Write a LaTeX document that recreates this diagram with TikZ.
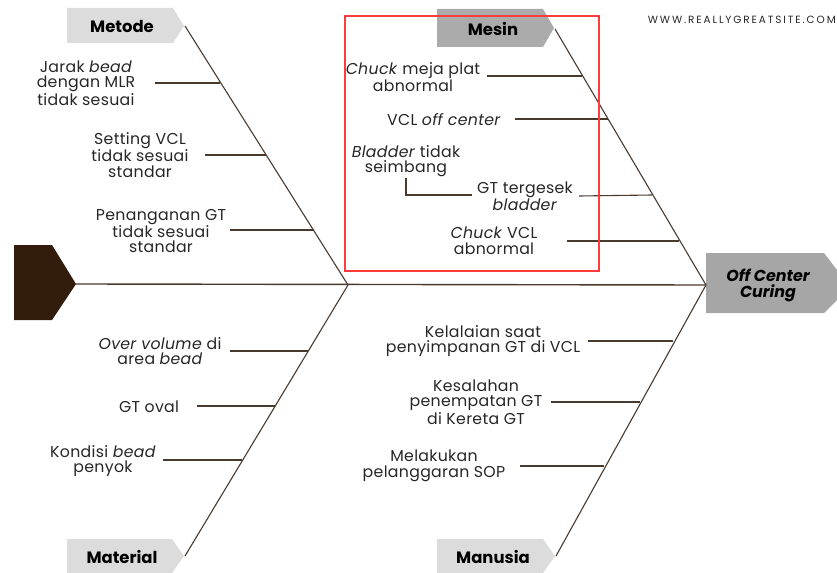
\documentclass[tikz,border=0pt]{standalone}
\usepackage{fontspec}
\setmainfont{Poppins}
\begin{document}
\begin{tikzpicture}[x=1bp,y=-1bp,
  bone/.style={draw=boneclr,line width=1.1bp},
  lbl/.style={align=center,font=\fontsize{15.8}{15.6}\selectfont\addfontfeatures{LetterSpace=2},text=txtclr,inner sep=0pt},
  tagtxt/.style={font=\fontsize{16.5}{17}\selectfont\bfseries,text=black,inner sep=0pt},
]
\definecolor{boneclr}{HTML}{4A3A2E}
\definecolor{txtclr}{HTML}{262626}
\definecolor{taglight}{HTML}{DCDCDC}
\definecolor{tagmid}{HTML}{ABABAB}
\definecolor{tagdark}{HTML}{A6A6A6}
\definecolor{headclr}{HTML}{331C0C}
\definecolor{frameclr}{HTML}{FF3B3B}
\useasboundingbox (0,0) rectangle (837,573);

% tail (dark pentagon)
\fill[headclr] (14,245) -- (52,245) -- (76,284) -- (52,320) -- (14,320) -- cycle;
\coordinate (tail) at (76,284);

% category tags
\fill[taglight] (67,8) -- (173,8) -- (184,26) -- (173,43) -- (67,43) -- cycle;
\node[tagtxt] (metode) at (122,26) {Metode};
\coordinate (metodetip) at (185,26);

\fill[tagmid] (437,9) -- (543,9) -- (554,28) -- (543,47) -- (437,47) -- cycle;
\node[tagtxt] (mesin) at (493,29) {Mesin};
\coordinate (mesintip) at (555,29);

\fill[taglight] (67,539) -- (172,539) -- (184,556) -- (172,573) -- (67,573) -- cycle;
\node[tagtxt] (material) at (122,557) {Material};
\coordinate (materialtip) at (185,556);

\fill[taglight] (437,539) -- (543,539) -- (555,556) -- (543,573) -- (437,573) -- cycle;
\node[tagtxt] (manusia) at (493,557) {Manusia};
\coordinate (manusiatip) at (556,556);

% effect head
\fill[tagdark] (706,253) -- (824,253) -- (837,270) -- (837,300) -- (824,313) -- (706,313) -- cycle;
\node[tagtxt,align=center,font=\fontsize{16}{16}\selectfont\bfseries\itshape] (effect) at (768,285) {Off Center\\Curing};
\coordinate (head) at (706,285);

% junction of the left bones
\coordinate (jleft) at (348,285);

% spine and main bones
\draw[bone,line width=1.4bp] (tail) -- (head);
\draw[bone] (metodetip) -- (jleft);
\draw[bone] (materialtip) -- (jleft);
\draw[bone] (mesintip) -- (head);
\draw[bone] (manusiatip) -- (head);

% --- Metode causes
\node[lbl] (m1) at (86,83) {Jarak \textit{bead}\\dengan MLR\\tidak sesuai};
\coordinate (m1a) at (155,83); \coordinate (m1b) at (220,83);
\draw[bone] (m1a) -- (m1b);
\node[lbl] (m2) at (140,155) {Setting VCL\\tidak sesuai\\standar};
\coordinate (m2a) at (205,155); \coordinate (m2b) at (266,155);
\draw[bone] (m2a) -- (m2b);
\node[lbl] (m3) at (161,231) {Penanganan GT\\tidak sesuai\\standar};
\coordinate (m3a) at (230,230); \coordinate (m3b) at (314,230);
\draw[bone] (m3a) -- (m3b);

% --- Mesin causes
\node[lbl] (s1) at (413,77) {\textit{Chuck} meja plat\\abnormal};
\coordinate (s1a) at (487,76); \coordinate (s1b) at (582,76);
\draw[bone] (s1a) -- (s1b);
\node[lbl] (s2) at (444,120) {VCL \textit{off center}};
\coordinate (s2a) at (515,119); \coordinate (s2b) at (608,119);
\draw[bone] (s2a) -- (s2b);
\node[lbl] (s3) at (406,161) {\textit{Bladder} tidak\\seimbang};
\node[lbl] (s4) at (525,196) {GT tergesek\\\textit{bladder}};
\coordinate (s3a) at (406,178); \coordinate (s3b) at (472,195);
\draw[bone] (s3a) |- (s3b);
\coordinate (s4a) at (579,196); \coordinate (s4b) at (652,195);
\draw[bone] (s4a) -- (s4b);
\node[lbl] (s5) at (494,241) {\textit{Chuck} VCL\\abnormal};
\coordinate (s5a) at (567,241); \coordinate (s5b) at (679,241);
\draw[bone] (s5a) -- (s5b);

% --- Material causes
\node[lbl] (t1) at (160,351) {\textit{Over volume} di\\area \textit{bead}};
\coordinate (t1a) at (230,351); \coordinate (t1b) at (308,351);
\draw[bone] (t1a) -- (t1b);
\node[lbl] (t2) at (149,407) {GT oval};
\coordinate (t2a) at (197,406); \coordinate (t2b) at (275,406);
\draw[bone] (t2a) -- (t2b);
\node[lbl] (t3) at (103,461) {Kondisi \textit{bead}\\penyok};
\coordinate (t3a) at (163,460); \coordinate (t3b) at (242,460);
\draw[bone] (t3a) -- (t3b);

% --- Manusia causes
\node[lbl] (u1) at (483,341) {Kelalaian saat\\penyimpanan GT di VCL};
\coordinate (u1a) at (588,341); \coordinate (u1b) at (673,341);
\draw[bone] (u1a) -- (u1b);
\node[lbl] (u2) at (476,402) {Kesalahan\\penempatan GT\\di Kereta GT};
\coordinate (u2a) at (551,402); \coordinate (u2b) at (640,402);
\draw[bone] (u2a) -- (u2b);
\node[lbl] (u3) at (434,466) {Melakukan\\pelanggaran SOP};
\coordinate (u3a) at (520,466); \coordinate (u3b) at (604,466);
\draw[bone] (u3a) -- (u3b);

% highlight frame around the machine causes
\draw[frameclr,line width=2.6bp] (345,16) rectangle (599,271);
\node[font=\fontsize{10.5}{11}\selectfont\addfontfeatures{LetterSpace=18},text=txtclr,anchor=east,inner sep=0pt] (site) at (836,20) {WWW.REALLYGREATSITE.COM};
\end{tikzpicture}
\end{document}
